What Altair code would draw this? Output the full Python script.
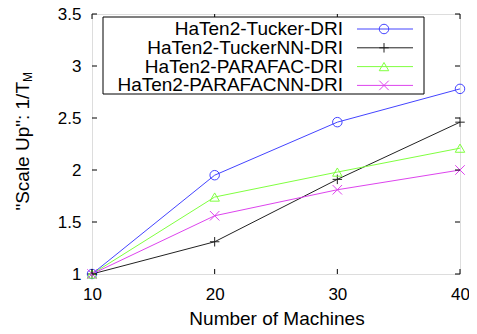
import altair as alt
import pandas as pd

machines = [10, 20, 30, 40]
series_names = ["HaTen2-Tucker-DRI", "HaTen2-TuckerNN-DRI", "HaTen2-PARAFAC-DRI", "HaTen2-PARAFACNN-DRI"]
tucker = [1.0, 1.95, 2.46, 2.78]
tucker_nn = [1.0, 1.31, 1.91, 2.46]
parafac = [1.0, 1.74, 1.98, 2.21]
parafac_nn = [1.0, 1.56, 1.81, 2.0]
colors = ["#4444ff", "#222222", "#80ff40", "#dd44ee"]
shapes = ["circle", "M-1,0L1,0M0,-1L0,1", "triangle-up", "M-1,-1L1,1M-1,1L1,-1"]
x_ticks = [10, 20, 30, 40]
y_ticks = [1, 1.5, 2, 2.5, 3, 3.5]

FONT = "Liberation Sans"
W, H = 368, 260

rows = []
for name, vals in zip(series_names, [tucker, tucker_nn, parafac, parafac_nn]):
    for m, v in zip(machines, vals):
        rows.append({"series": name, "machines": m, "value": v})
df = pd.DataFrame(rows)

color_scale = alt.Scale(domain=series_names, range=colors)
shape_scale = alt.Scale(domain=series_names, range=shapes)
xs = alt.Scale(domain=[10, 40], nice=False, zero=False)
ys = alt.Scale(domain=[1, 3.5], nice=False, zero=False)

xaxis = alt.Axis(values=x_ticks, ticks=False, domain=False, grid=False,
                 labelFont=FONT, labelFontSize=17, labelColor="black",
                 labelPadding=12, labelFlush=False, labelOverlap=False,
                 title=None)
yaxis = alt.Axis(values=y_ticks, ticks=False, domain=False, grid=False,
                 labelFont=FONT, labelFontSize=17, labelColor="black",
                 labelPadding=11, labelFlush=False, labelOverlap=False,
                 format="~g", title=None)

base = alt.Chart(df)
lines = base.mark_line(strokeWidth=1).encode(
    x=alt.X("machines:Q", scale=xs, axis=xaxis),
    y=alt.Y("value:Q", scale=ys, axis=yaxis),
    color=alt.Color("series:N", scale=color_scale, legend=None),
    detail="series:N",
)
points = base.mark_point(filled=False, strokeWidth=1, size=90, opacity=1).encode(
    x=alt.X("machines:Q", scale=xs, axis=xaxis),
    y=alt.Y("value:Q", scale=ys, axis=yaxis),
    color=alt.Color("series:N", scale=color_scale, legend=None),
    shape=alt.Shape("series:N", scale=shape_scale, legend=None),
)

ytdf = pd.DataFrame({"t": y_ticks})
xtdf = pd.DataFrame({"t": x_ticks})
tl = alt.Chart(ytdf).mark_rule(color="black", strokeWidth=1).encode(
    y=alt.Y("t:Q", scale=ys, axis=yaxis), x=alt.value(0), x2=alt.value(5))
tr = alt.Chart(ytdf).mark_rule(color="black", strokeWidth=1).encode(
    y=alt.Y("t:Q", scale=ys, axis=yaxis), x=alt.value(W - 5), x2=alt.value(W))
tb = alt.Chart(xtdf).mark_rule(color="black", strokeWidth=1).encode(
    x=alt.X("t:Q", scale=xs, axis=xaxis), y=alt.value(H - 5), y2=alt.value(H))
tt = alt.Chart(xtdf).mark_rule(color="black", strokeWidth=1).encode(
    x=alt.X("t:Q", scale=xs, axis=xaxis), y=alt.value(0), y2=alt.value(5))

main = alt.layer(lines, points, tl, tr, tb, tt)

# legend
ldf = pd.DataFrame({"series": series_names, "idx": list(range(len(series_names)))})
lbase = alt.Chart(ldf).transform_calculate(py="15 + datum.idx * 18.8")
lbox = alt.Chart(pd.DataFrame({"a": [0]})).mark_rect(
    fill="white", stroke="black", strokeWidth=1).encode(
    x=alt.value(11), x2=alt.value(332), y=alt.value(3), y2=alt.value(80))
ltext = lbase.mark_text(align="right", baseline="middle", font=FONT, fontSize=19,
                        color="black").encode(
    x=alt.value(251), y=alt.Y("py:Q", scale=None), text="series:N")
lline = lbase.mark_rule(strokeWidth=1).encode(
    x=alt.value(265), x2=alt.value(321), y=alt.Y("py:Q", scale=None),
    color=alt.Color("series:N", scale=color_scale, legend=None))
lpt = lbase.mark_point(filled=False, strokeWidth=1, size=90, opacity=1).encode(
    x=alt.value(292), y=alt.Y("py:Q", scale=None),
    color=alt.Color("series:N", scale=color_scale, legend=None),
    shape=alt.Shape("series:N", scale=shape_scale, legend=None))

# axis titles
xtitle = alt.Chart(pd.DataFrame({"s": ["Number of Machines"]})).mark_text(
    align="center", baseline="alphabetic", font=FONT, fontSize=19,
    color="black").encode(x=alt.value(W / 2 + 1), y=alt.value(311), text="s:N")
ytitle = alt.Chart(pd.DataFrame({"s": ['"Scale Up": 1/T']})).mark_text(
    angle=270, align="right", baseline="alphabetic", font=FONT, fontSize=19,
    color="black").encode(x=alt.value(-63), y=alt.value(68), text="s:N")
ysub = alt.Chart(pd.DataFrame({"s": ["M"]})).mark_text(
    angle=270, align="left", baseline="alphabetic", font=FONT, fontSize=12,
    color="black").encode(x=alt.value(-60), y=alt.value(68), text="s:N")

legend = alt.layer(lbox, lline, lpt, ltext)

chart = alt.layer(main, legend, xtitle, ytitle, ysub).resolve_scale(y="independent").properties(
    width=W, height=H, autosize="none",
    padding={"left": 84, "top": 6, "right": 461 - 84 - W, "bottom": 52},
).configure_view(stroke="black", strokeWidth=1).configure(background="white")

chart.save("out.html", embed_options={"renderer": "svg", "actions": False})
